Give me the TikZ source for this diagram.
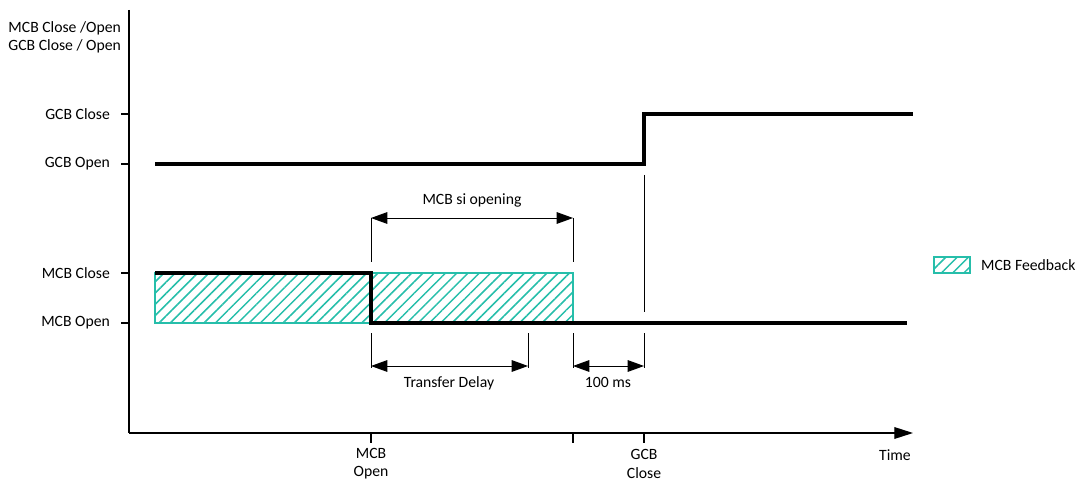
\documentclass[tikz,border=0pt]{standalone}
\usepackage{fontspec}
\setmainfont{Carlito}
\usetikzlibrary{arrows.meta,patterns.meta}
\definecolor{fbteal}{RGB}{38,190,170}

\begin{document}
\begin{tikzpicture}[x=0.03cm, y=-0.03cm,
  every node/.style={font=\fontsize{13.4}{15.5}\selectfont},
  signal/.style={line width=3.4pt},
  axisline/.style={line width=1.1pt},
  dimline/.style={line width=0.8pt},
  dimarrow/.style={line width=0.8pt,
    {Triangle[length=14pt,width=10pt]}-{Triangle[length=14pt,width=10pt]}},
  feedback/.style={draw=fbteal, line width=0.9pt,
    pattern={Lines[angle=45,distance=6.8pt,line width=1.3pt]}, pattern color=fbteal}]

\useasboundingbox (0,0) rectangle (1079,482);

% Axes
\coordinate (origin) at (129,433);
\coordinate (ytop) at (129,10);
\coordinate (xend) at (913,433);
\draw[axisline] (ytop) -- (origin);
\draw[axisline, -{Triangle[length=16pt,width=10pt]}] (origin) -- (xend);
\node[anchor=east, align=right] (ytitle) at (125,37) {MCB Close /Open\\GCB Close / Open};
\node (time) at (895,455) {Time};

% Levels on the y axis
\foreach \y/\lab/\nm in {114/GCB Close/gclose, 164/GCB Open/gopen,
                        273/MCB Close/mclose, 323/MCB Open/mopen} {
  \draw[axisline] (121,\y) -- (129,\y);
  \node[anchor=east] (\nm) at (114,\y) {\lab};
}

% Instants on the time axis
\foreach \x/\nm in {371/topen, 528/tdelay, 573/tsi, 644/tclose}
  \coordinate (\nm) at (\x,433);
\foreach \nm in {topen, tsi, tclose}
  \draw[axisline] (\nm) -- ++(0,10);
\node[align=center] (lopen) at (371,464) {MCB\\Open};
\node[align=center] (lclose) at (644,464) {GCB\\Close};

% MCB feedback
\draw[feedback] (155,273) rectangle (573,323);

% Signals
\draw[signal] (155,164) -- (644,164) -- (644,114) -- (913,114);
\draw[signal] (155,273) -- (371,273) -- (371,323) -- (907,323);

% Extension lines
\draw[dimline] (371,218) -- (371,262);
\draw[dimline] (573,218) -- (573,262);
\draw[dimline] (644,175) -- (644,312);
\foreach \x in {371, 528, 573, 644}
  \draw[dimline] (\x,333) -- (\x,368);

% Durations
\coordinate (a1) at (371,218);
\coordinate (a2) at (573,218);
\draw[dimarrow] (a1) -- (a2);
\node (si) at (472,200) {MCB si opening};

\coordinate (b1) at (371,366);
\coordinate (b2) at (528,366);
\draw[dimarrow] (b1) -- (b2);
\node (td) at (449,383) {Transfer Delay};

\coordinate (c1) at (573,366);
\coordinate (c2) at (644,366);
\draw[dimarrow] (c1) -- (c2);
\node (ms) at (608,382) {100 ms};

% Legend
\draw[feedback] (934,257) rectangle (970,273);
\node[anchor=west] (legend) at (977,265) {MCB Feedback};

\end{tikzpicture}
\end{document}
